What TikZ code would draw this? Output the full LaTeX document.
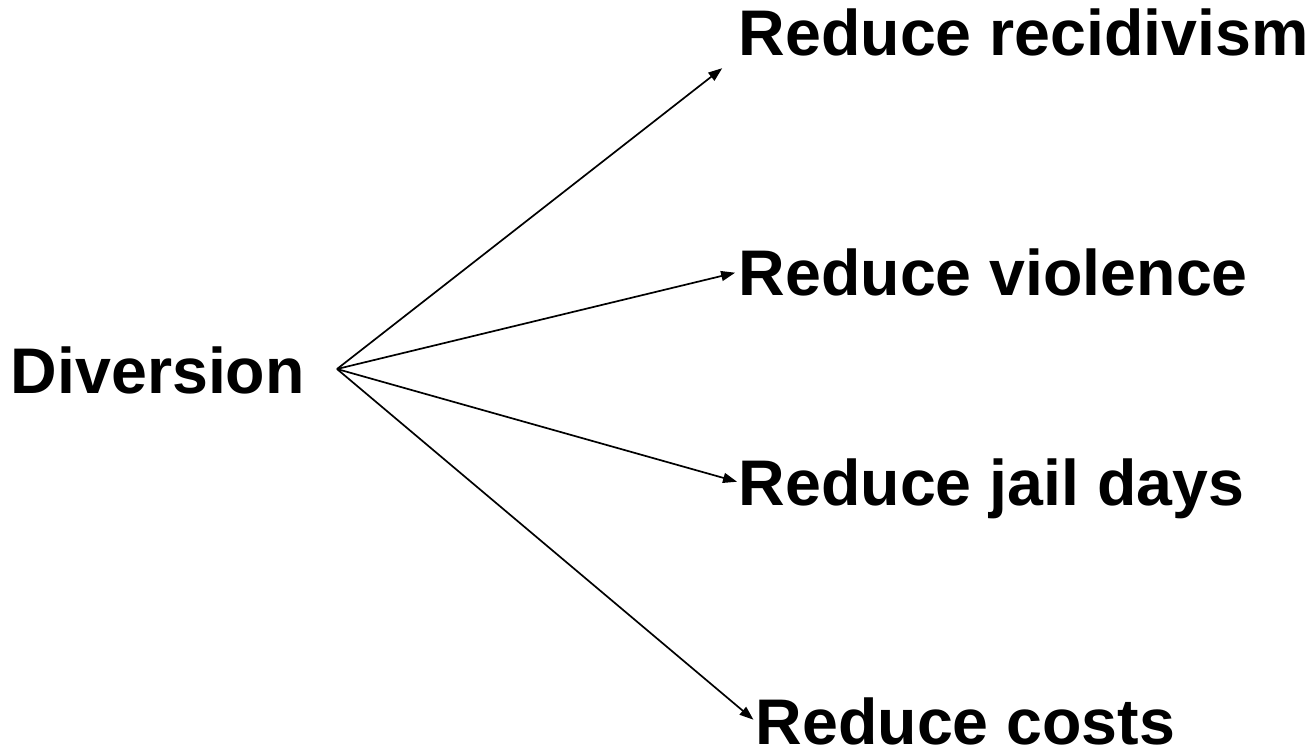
\documentclass[tikz,border=0pt]{standalone}
\usepackage{fontspec}
\setmainfont{Liberation Sans}
\usetikzlibrary{arrows.meta}

\begin{document}
\begin{tikzpicture}[
    x=1pt, y=-1pt,
    ->, >={Triangle[length=14pt, width=10pt]}, line width=1.7pt,
    every node/.style={font=\bfseries\fontsize{64.5pt}{72pt}\selectfont, inner sep=0pt},
    goal/.style={anchor=base west, text height=46pt, text depth=0pt}
]
    \useasboundingbox (0,0) rectangle (1316,748);

    % Nodes
    \node[anchor=base west] (div) at (10,393) {Diversion};
    \coordinate (hub) at (337,369);
    \node[goal] (rec) at (738,55) {Reduce recidivism};
    \node[goal] (vio) at (738,295) {Reduce violence};
    \node[goal] (jail) at (738,505) {Reduce jail days};
    \node[goal] (cost) at (755,744) {Reduce costs};

    % Arrows
    \path (hub) edge[shorten >=20pt] (rec.south west)
                edge[shorten >=3pt] (vio.west)
                edge[shorten >=1pt] (jail.west)
                edge[shorten >=2pt] (cost.west);
\end{tikzpicture}
\end{document}
